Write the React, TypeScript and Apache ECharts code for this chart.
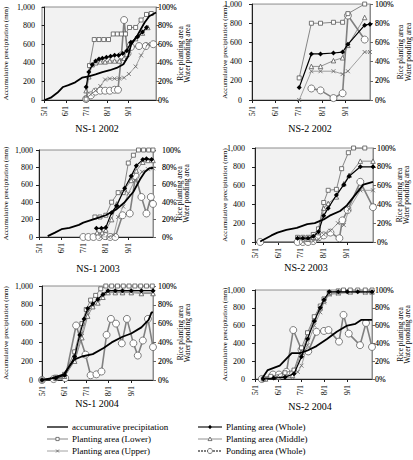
import React, { useEffect, useRef } from 'react';
import * as echarts from 'echarts';

type Pt = [string, number];

// month start offsets counted from May 1
const MONTH_START: Record<number, number> = { 5: 0, 6: 31, 7: 61, 8: 92, 9: 123, 10: 153 };
const dayOf = (md: string) => {
  const [m, d] = md.split('/').map(Number);
  return MONTH_START[m] + d - 1;
};

const TICK_DATES = ['5/1', '6/1', '7/1', '8/1', '9/1'];
const PANEL_TITLES = ['NS-1 2002', 'NS-2 2002', 'NS-1 2003', 'NS-2 2003', 'NS-1 2004', 'NS-2 2004'];
const LEFT_AXIS_NAME = 'Accumulative precipitation (mm)';
const RIGHT_AXIS_NAMES = ['Rice planting area', 'Water ponding area'];
const SERIES_NAMES: Record<string, string> = {
  precip: 'accumurative precipitation',
  lower: 'Planting area (Lower)',
  upper: 'Planting area (Upper)',
  whole: 'Planting area (Whole)',
  middle: 'Planting area (Middle)',
  pond: 'Ponding area (Whole)',
};
const LEGEND_COLUMNS = [['precip', 'lower', 'upper'], ['whole', 'middle', 'pond']];

// ---- NS-1 2002 ----
const NS1_2002_PRECIP: Pt[] = [['5/1', 0], ['5/10', 25], ['5/20', 80], ['5/28', 140], ['6/5', 160], ['6/15', 190], ['6/25', 240], ['7/5', 255], ['7/15', 275], ['7/25', 300], ['8/5', 320], ['8/15', 345], ['8/25', 385], ['9/1', 470], ['9/5', 590], ['9/15', 700], ['9/25', 830], ['10/2', 900], ['10/12', 940]];
const NS1_2002_WHOLE: Pt[] = [['7/1', 14], ['7/5', 30], ['7/10', 38], ['7/15', 42], ['7/20', 44], ['7/25', 45], ['7/31', 46], ['8/6', 47], ['8/12', 48], ['8/18', 48], ['8/24', 50], ['8/30', 53], ['9/5', 62], ['9/15', 68], ['9/22', 73], ['9/28', 78]];
const NS1_2002_LOWER: Pt[] = [['7/1', 1], ['7/6', 37], ['7/13', 65], ['7/20', 65], ['7/27', 65], ['8/3', 65], ['8/10', 71], ['8/16', 71], ['8/22', 71], ['8/28', 71], ['9/3', 78], ['9/12', 78], ['9/20', 86], ['9/28', 92], ['10/5', 93]];
const NS1_2002_MIDDLE: Pt[] = [['7/1', 10], ['7/5', 25], ['7/10', 38], ['7/15', 40], ['7/22', 41], ['7/29', 41], ['8/5', 42], ['8/12', 42], ['8/19', 42], ['8/26', 45], ['9/2', 60], ['9/12', 66], ['9/22', 72], ['9/30', 78]];
const NS1_2002_UPPER: Pt[] = [['7/1', 2], ['7/8', 6], ['7/15', 10], ['7/22', 15], ['7/29', 22], ['8/5', 23], ['8/12', 23], ['8/19', 23], ['8/26', 24], ['9/2', 28], ['9/12', 36], ['9/20', 48], ['9/30', 60]];
const NS1_2002_POND: Pt[] = [['7/1', 1], ['7/8', 5], ['7/15', 9], ['7/22', 10], ['7/29', 10], ['8/5', 10], ['8/12', 11], ['8/17', 11], ['8/22', 48], ['8/26', 86], ['8/31', 50], ['9/5', 57], ['9/17', 58], ['9/27', 58], ['10/8', 60]];

// ---- NS-2 2002 ----
const NS2_2002_PRECIP: Pt[] = [];
const NS2_2002_WHOLE: Pt[] = [['7/2', 13], ['7/18', 48], ['7/30', 48], ['8/16', 49], ['8/28', 50], ['9/4', 58], ['9/26', 78], ['10/3', 79]];
const NS2_2002_LOWER: Pt[] = [['7/2', 23], ['7/18', 80], ['7/30', 80], ['8/16', 81], ['8/28', 81], ['9/4', 90], ['9/26', 100]];
const NS2_2002_MIDDLE: Pt[] = [['7/18', 35], ['7/30', 35], ['8/16', 41], ['8/28', 44], ['9/4', 57], ['9/26', 86]];
const NS2_2002_UPPER: Pt[] = [['7/2', 0], ['7/18', 30], ['7/30', 30], ['8/16', 30], ['8/28', 27], ['9/4', 30], ['9/26', 50], ['10/3', 50]];
const NS2_2002_POND: Pt[] = [['7/18', 12], ['7/30', 10], ['8/16', 2], ['8/28', 7], ['9/4', 88], ['9/26', 63]];

// ---- NS-1 2003 ----
const NS1_2003_PRECIP: Pt[] = [['5/13', 10], ['5/23', 50], ['6/1', 90], ['6/12', 104], ['6/25', 140], ['7/1', 165], ['7/19', 215], ['8/1', 250], ['8/16', 320], ['8/27', 400], ['9/8', 520], ['9/17', 660], ['9/24', 750], ['9/30', 790], ['10/5', 796]];
const NS1_2003_WHOLE: Pt[] = [['7/19', 10], ['7/26', 10], ['8/1', 11], ['8/9', 28], ['8/16', 36], ['8/27', 56], ['9/5', 70], ['9/12', 82], ['9/21', 89], ['9/26', 90], ['10/3', 89]];
const NS1_2003_LOWER: Pt[] = [['7/17', 23], ['7/24', 23], ['8/1', 25], ['8/9', 40], ['8/18', 51], ['8/25', 51], ['9/1', 85], ['9/8', 94], ['9/15', 100], ['9/22', 100], ['9/29', 100], ['10/5', 100]];
const NS1_2003_MIDDLE: Pt[] = [['7/20', 5], ['7/27', 5], ['8/1', 8], ['8/9', 20], ['8/16', 38], ['8/27', 55], ['9/5', 65], ['9/12', 76], ['9/21', 86], ['9/28', 88], ['10/5', 88]];
const NS1_2003_UPPER: Pt[] = [['7/25', 0], ['8/5', 0], ['8/12', 2], ['8/18', 23], ['8/25', 35], ['9/1', 50], ['9/10', 65], ['9/20', 75], ['9/28', 78], ['10/5', 79]];
const NS1_2003_POND: Pt[] = [['7/1', 0], ['7/8', 0], ['7/15', 0], ['7/23', 0], ['7/31', 1], ['8/7', 0], ['8/14', 0], ['8/24', 25], ['9/3', 27], ['9/11', 70], ['9/19', 46], ['9/26', 27], ['10/2', 46], ['10/5', 38]];

// ---- NS-2 2003 ----
const NS2_2003_PRECIP: Pt[] = [['5/8', 5], ['5/23', 70], ['5/31', 100], ['6/12', 130], ['6/26', 150], ['7/10', 190], ['7/20', 200], ['8/1', 240], ['8/9', 280], ['8/23', 330], ['9/1', 390], ['9/14', 520], ['9/23', 610], ['10/6', 640]];
const NS2_2003_WHOLE: Pt[] = [['6/27', 4], ['7/4', 4], ['7/11', 4], ['7/18', 6], ['7/25', 11], ['8/1', 28], ['8/7', 36], ['8/18', 50], ['8/28', 61], ['9/4', 70], ['9/19', 80], ['10/6', 80]];
const NS2_2003_LOWER: Pt[] = [['6/27', 5], ['7/4', 5], ['7/11', 5], ['7/18', 8], ['7/25', 14], ['8/1', 42], ['8/7', 55], ['8/18', 56], ['8/25', 78], ['9/3', 95], ['9/10', 100], ['9/25', 100]];
const NS2_2003_MIDDLE: Pt[] = [['7/11', 3], ['7/18', 5], ['7/25', 10], ['8/1', 36], ['8/7', 41], ['8/18', 48], ['8/28', 62], ['9/4', 71], ['9/19', 86], ['10/6', 86]];
const NS2_2003_UPPER: Pt[] = [['7/4', 0], ['7/18', 1], ['7/25', 3], ['8/1', 8], ['8/10', 12], ['8/20', 20], ['8/28', 18], ['9/4', 35], ['9/19', 55], ['10/6', 55]];
const NS2_2003_POND: Pt[] = [['5/8', 0], ['6/27', 0], ['7/4', 0], ['7/11', 0], ['7/18', 1], ['7/25', 5], ['8/1', 7], ['8/10', 10], ['8/22', 4], ['8/26', 23], ['9/2', 34], ['9/19', 64], ['10/6', 37]];

// ---- NS-1 2004 ----
const NS1_2004_PRECIP: Pt[] = [['5/1', 0], ['5/15', 20], ['5/31', 60], ['6/8', 150], ['6/15', 220], ['6/25', 250], ['7/10', 275], ['7/25', 340], ['8/5', 400], ['8/20', 460], ['9/1', 495], ['9/15', 560], ['9/25', 640], ['9/29', 720], ['10/1', 720]];
const NS1_2004_WHOLE: Pt[] = [['5/1', 0], ['5/20', 2], ['6/1', 5], ['6/15', 25], ['6/22', 48], ['6/28', 65], ['7/3', 76], ['7/10', 81], ['7/17', 86], ['7/24', 91], ['7/31', 95], ['8/10', 95], ['8/20', 95], ['9/1', 95], ['9/15', 95], ['10/1', 95]];
const NS1_2004_LOWER: Pt[] = [['5/1', 0], ['5/20', 3], ['6/1', 6], ['6/15', 30], ['6/25', 60], ['7/1', 75], ['7/7', 85], ['7/14', 90], ['7/21', 97], ['7/28', 100], ['8/5', 100], ['8/13', 100], ['8/21', 100], ['8/29', 100], ['9/6', 100], ['9/14', 100], ['9/22', 100], ['9/30', 100]];
const NS1_2004_MIDDLE: Pt[] = [['5/20', 2], ['6/1', 4], ['6/15', 20], ['6/25', 45], ['7/3', 68], ['7/10', 78], ['7/17', 82], ['7/24', 88], ['7/31', 93], ['8/10', 93], ['8/20', 93], ['9/1', 93], ['9/15', 92], ['10/1', 92]];
const NS1_2004_UPPER: Pt[] = [['5/20', 1], ['6/1', 3], ['6/15', 22], ['6/25', 50], ['7/3', 72], ['7/10', 80], ['7/17', 86], ['7/24', 92], ['7/31', 94], ['8/10', 94], ['8/20', 94], ['9/1', 94], ['9/15', 93], ['10/1', 93]];
const NS1_2004_POND: Pt[] = [['5/1', 0], ['5/17', 1], ['6/2', 2], ['6/17', 58], ['6/30', 27], ['7/7', 5], ['7/15', 6], ['7/22', 9], ['7/29', 48], ['8/4', 65], ['8/11', 60], ['8/19', 39], ['8/26', 65], ['9/4', 39], ['9/10', 26], ['9/17', 42], ['9/24', 65], ['10/1', 35]];

// ---- NS-2 2004 ----
const NS2_2004_PRECIP: Pt[] = [['5/10', 0], ['5/18', 100], ['6/3', 150], ['6/19', 290], ['6/30', 290], ['7/10', 320], ['7/22', 370], ['8/5', 450], ['8/18', 530], ['9/1', 600], ['9/12', 620], ['9/20', 665], ['10/4', 665]];
const NS2_2004_WHOLE: Pt[] = [['5/12', 0], ['5/26', 1], ['6/10', 2], ['6/22', 6], ['7/2', 25], ['7/10', 45], ['7/19', 65], ['7/27', 80], ['8/1', 89], ['8/8', 98], ['8/20', 98], ['9/1', 98], ['9/15', 98], ['10/4', 98]];
const NS2_2004_LOWER: Pt[] = [['5/12', 0], ['5/22', 3], ['6/10', 7], ['6/22', 10], ['7/2', 35], ['7/10', 52], ['7/19', 70], ['7/27', 82], ['8/1', 90], ['8/8', 97], ['8/20', 99], ['8/27', 100], ['9/5', 100], ['9/15', 100], ['9/25', 100], ['10/4', 100]];
const NS2_2004_MIDDLE: Pt[] = [['5/15', 0], ['6/1', 2], ['6/20', 4], ['7/2', 30], ['7/10', 48], ['7/19', 68], ['7/27', 80], ['8/1', 88], ['8/8', 96], ['8/20', 97], ['9/5', 98], ['9/25', 98], ['10/4', 98]];
const NS2_2004_UPPER: Pt[] = [['5/15', 0], ['6/1', 1], ['6/20', 2], ['6/27', 8], ['7/2', 15], ['7/10', 38], ['7/19', 60], ['7/27', 75], ['8/1', 86], ['8/8', 95], ['8/20', 96], ['9/5', 97], ['9/25', 97], ['10/4', 97]];
const NS2_2004_POND: Pt[] = [['5/10', 0], ['5/25', 5], ['6/2', 5], ['6/12', 8], ['6/21', 55], ['7/2', 33], ['7/11', 31], ['7/22', 53], ['8/1', 54], ['8/7', 55], ['8/21', 42], ['8/27', 72], ['9/3', 51], ['9/18', 38], ['9/26', 63], ['10/4', 36]];

const PANEL_DATA = [
  { precip: NS1_2002_PRECIP, whole: NS1_2002_WHOLE, lower: NS1_2002_LOWER, middle: NS1_2002_MIDDLE, upper: NS1_2002_UPPER, pond: NS1_2002_POND },
  { precip: NS2_2002_PRECIP, whole: NS2_2002_WHOLE, lower: NS2_2002_LOWER, middle: NS2_2002_MIDDLE, upper: NS2_2002_UPPER, pond: NS2_2002_POND },
  { precip: NS1_2003_PRECIP, whole: NS1_2003_WHOLE, lower: NS1_2003_LOWER, middle: NS1_2003_MIDDLE, upper: NS1_2003_UPPER, pond: NS1_2003_POND },
  { precip: NS2_2003_PRECIP, whole: NS2_2003_WHOLE, lower: NS2_2003_LOWER, middle: NS2_2003_MIDDLE, upper: NS2_2003_UPPER, pond: NS2_2003_POND },
  { precip: NS1_2004_PRECIP, whole: NS1_2004_WHOLE, lower: NS1_2004_LOWER, middle: NS1_2004_MIDDLE, upper: NS1_2004_UPPER, pond: NS1_2004_POND },
  { precip: NS2_2004_PRECIP, whole: NS2_2004_WHOLE, lower: NS2_2004_LOWER, middle: NS2_2004_MIDDLE, upper: NS2_2004_UPPER, pond: NS2_2004_POND },
];

// layout (pixels / day range) per panel
const LAYOUT = [
  { left: 42, top: 7, width: 114, height: 93, min: -4, max: 164, lm: 7, rm: 2, tx: 97, ty: 128, nl: 6, nr1: 180, nr2: 187 },
  { left: 252, top: 4, width: 118, height: 96, min: 0, max: 155, lm: 10, rm: 5, tx: 310, ty: 128, nl: 225, nr1: 400, nr2: 408 },
  { left: 39, top: 150, width: 114, height: 87, min: 0, max: 157, lm: 6, rm: 9, tx: 98, ty: 268, nl: 6, nr1: 179, nr2: 186 },
  { left: 255, top: 148, width: 118, height: 94, min: 0, max: 158, lm: 10, rm: 4, tx: 306, ty: 267, nl: 225, nr1: 399, nr2: 406 },
  { left: 42, top: 286, width: 111, height: 94, min: 0, max: 153, lm: 9, rm: 5, tx: 97, ty: 403, nl: 6, nr1: 180, nr2: 187 },
  { left: 255, top: 290, width: 117, height: 89, min: 0, max: 156, lm: 10, rm: 3, tx: 310, ty: 406, nl: 225, nr1: 400, nr2: 407 },
];
const LEGEND_LAYOUT = [
  { x1: 47, len: 21, tx: 72 },
  { x1: 198, len: 24, tx: 226 },
];
const LEGEND_ROWS_Y = [427, 439, 451];

const FONT = '"Liberation Serif", "Times New Roman", serif';
const TEXT_COLOR = '#000';
const X_PATH = 'path://M0,0L10,10M10,0L0,10';

const STYLES: Record<string, any> = {
  pond: { symbol: 'circle', symbolSize: 7, lineStyle: { width: 1.6, color: '#808080' }, itemStyle: { color: '#fff', borderColor: '#606060', borderWidth: 0.8 } },
  upper: { symbol: X_PATH, symbolSize: 4, lineStyle: { width: 0.8, color: '#8a8a8a' }, itemStyle: { color: 'none', borderColor: '#666', borderWidth: 0.8 } },
  middle: { symbol: 'triangle', symbolSize: 4.5, lineStyle: { width: 0.8, color: '#777' }, itemStyle: { color: '#fff', borderColor: '#555', borderWidth: 0.8 } },
  lower: { symbol: 'rect', symbolSize: 4, lineStyle: { width: 0.8, color: '#6a6a6a' }, itemStyle: { color: '#fff', borderColor: '#555', borderWidth: 0.8 } },
  precip: { symbol: 'none', lineStyle: { width: 1.8, color: '#000' }, itemStyle: { color: '#000' } },
  whole: { symbol: 'diamond', symbolSize: 5, lineStyle: { width: 1.2, color: '#000' }, itemStyle: { color: '#000' } },
};
const DRAW_ORDER = ['pond', 'upper', 'middle', 'lower', 'precip', 'whole'];

function textEl(text: string, x: number, y: number, fontSize: number, rotation = 0, align = 'center') {
  return {
    type: 'text', x, y, rotation, silent: true,
    style: { text, fontSize, fontFamily: FONT, fill: TEXT_COLOR, align, verticalAlign: 'middle', textAlign: align, textVerticalAlign: 'middle' },
  };
}

// marker shapes in local coordinates around (0,0); the element is placed with x/y
function legendMarker(key: string): any[] {
  const els: any[] = [];
  if (key === 'lower') els.push({ type: 'rect', shape: { x: -1.6, y: -1.6, width: 3.2, height: 3.2 }, style: { fill: '#fff', stroke: '#444', lineWidth: 0.7 } });
  if (key === 'middle') els.push({ type: 'polygon', shape: { points: [[0, -2], [2, 1.6], [-2, 1.6]] }, style: { fill: '#fff', stroke: '#444', lineWidth: 0.7 } });
  if (key === 'whole') els.push({ type: 'polygon', shape: { points: [[0, -2.2], [1.8, 0], [0, 2.2], [-1.8, 0]] }, style: { fill: '#000' } });
  if (key === 'upper') {
    els.push({ type: 'line', shape: { x1: -1.5, y1: -1.5, x2: 1.5, y2: 1.5 }, style: { stroke: '#555', lineWidth: 0.7 } });
    els.push({ type: 'line', shape: { x1: -1.5, y1: 1.5, x2: 1.5, y2: -1.5 }, style: { stroke: '#555', lineWidth: 0.7 } });
  }
  if (key === 'pond') els.push({ type: 'circle', shape: { cx: 0, cy: 0, r: 2.5 }, style: { fill: '#fff', stroke: '#444', lineWidth: 0.7 } });
  return els;
}

function buildOption() {
  const grid: any[] = [];
  const xAxis: any[] = [];
  const yAxis: any[] = [];
  const series: any[] = [];
  const graphic: any[] = [];
  const tickDays = TICK_DATES.map(dayOf);

  LAYOUT.forEach((L, i) => {
    grid.push({ left: L.left, top: L.top, width: L.width, height: L.height, show: true, backgroundColor: '#f2f2f2', borderColor: '#8c8c8c', borderWidth: 1, containLabel: false });
    xAxis.push({
      type: 'value', gridIndex: i, min: L.min, max: L.max,
      splitLine: { show: false },
      axisLine: { show: true, lineStyle: { color: '#222', width: 1 } },
      axisTick: { show: true, customValues: tickDays, length: 3, lineStyle: { color: '#222' } },
      axisLabel: {
        customValues: tickDays, rotate: 90, margin: 6, fontSize: 8, fontFamily: FONT, color: TEXT_COLOR,
        formatter: (v: number) => TICK_DATES[tickDays.indexOf(Math.round(v))] ?? '',
      },
    });
    yAxis.push({
      type: 'value', gridIndex: i, position: 'left', min: 0, max: 1000, interval: 200,
      splitLine: { show: false },
      axisLine: { show: true, lineStyle: { color: '#222' } },
      axisTick: { show: true, length: 3, lineStyle: { color: '#222' } },
      axisLabel: { margin: L.lm, fontSize: 8, fontFamily: FONT, color: TEXT_COLOR, formatter: (v: number) => v.toLocaleString('en-US') },
    });
    yAxis.push({
      type: 'value', gridIndex: i, position: 'right', min: 0, max: 100, interval: 20,
      splitLine: { show: false },
      axisLine: { show: true, lineStyle: { color: '#8c8c8c' } },
      axisTick: { show: true, length: 3, lineStyle: { color: '#666' } },
      axisLabel: {
        margin: L.rm, fontSize: 8, fontFamily: FONT, color: TEXT_COLOR,
        textBorderColor: '#000', textBorderWidth: 0.12,
        formatter: (v: number) => v + '%',
      },
    });

    const data = PANEL_DATA[i] as Record<string, Pt[]>;
    DRAW_ORDER.forEach((key) => {
      const pts = data[key];
      if (!pts || pts.length === 0) return;
      const st = STYLES[key];
      series.push({
        type: 'line',
        name: SERIES_NAMES[key],
        xAxisIndex: i,
        yAxisIndex: key === 'precip' ? 2 * i : 2 * i + 1,
        data: pts.map(([d, v]) => [dayOf(d), v]),
        symbol: st.symbol,
        symbolSize: st.symbolSize,
        showSymbol: st.symbol !== 'none',
        lineStyle: st.lineStyle,
        itemStyle: st.itemStyle,
        emphasis: { disabled: true },
        z: DRAW_ORDER.indexOf(key) + 2,
      });
    });

    const cy = L.top + L.height / 2;
    graphic.push(textEl(PANEL_TITLES[i], L.tx, L.ty, 10));
    graphic.push(textEl(LEFT_AXIS_NAME, L.nl, cy, 7, Math.PI / 2));
    graphic.push(textEl(RIGHT_AXIS_NAMES[0], L.nr1, cy, 7.5, Math.PI / 2));
    graphic.push(textEl(RIGHT_AXIS_NAMES[1], L.nr2, cy, 7.5, Math.PI / 2));
  });

  // legend drawn from the series names / styles
  LEGEND_COLUMNS.forEach((col, c) => {
    const LL = LEGEND_LAYOUT[c];
    col.forEach((key, r) => {
      const y = LEGEND_ROWS_Y[r];
      const st = STYLES[key];
      const isPond = key === 'pond';
      graphic.push({
        type: 'line', silent: true, x: LL.x1, y,
        shape: { x1: 0, y1: 0, x2: LL.len, y2: 0 },
        style: {
          stroke: isPond ? '#555' : st.lineStyle.color,
          lineWidth: key === 'precip' ? 1.3 : isPond ? 1.4 : key === 'whole' ? 1.1 : 0.8,
          lineDash: isPond ? [2, 1] : undefined,
        },
      });
      legendMarker(key).forEach((e) => graphic.push({ ...e, silent: true, x: LL.x1 + LL.len / 2, y }));
      graphic.push(textEl(SERIES_NAMES[key], LL.tx, y, 9, 0, 'left'));
    });
  });

  return { animation: false, backgroundColor: '#fff', textStyle: { color: TEXT_COLOR }, grid, xAxis, yAxis, series, graphic };
}

export default function App() {
  const ref = useRef<HTMLDivElement>(null);
  useEffect(() => {
    if (!ref.current) return;
    const chart = echarts.init(ref.current, undefined, { renderer: 'svg' });
    chart.setOption(buildOption() as any);
    return () => chart.dispose();
  }, []);
  return <div ref={ref} style={{ position: 'absolute', left: 0, top: 0, width: 413, height: 460, background: '#fff' }} />;
}
